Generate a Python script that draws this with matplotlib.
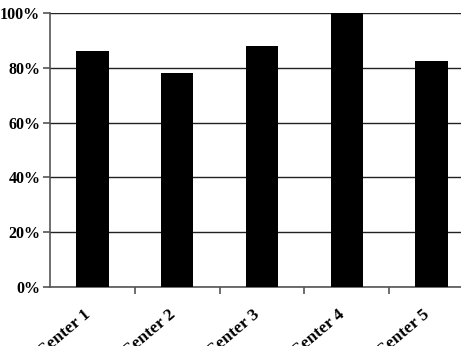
import numpy as np
import matplotlib.pyplot as plt
import matplotlib.transforms as mtransforms
from matplotlib.ticker import FuncFormatter, FixedLocator

centers = ["Center 1", "Center 2", "Center 3", "Center 4", "Center 5"]
values = [86, 78, 88, 100, 82.5]
yticks = [0, 20, 40, 60, 80, 100]

plt.rcParams['font.family'] = ['Liberation Serif', 'DejaVu Serif']
plt.rcParams['font.weight'] = 'bold'

fig = plt.figure(figsize=(4.61, 3.46), dpi=100)
ax = fig.add_axes([50 / 461, 59 / 346, 424 / 461, 274 / 346])

x = np.arange(len(centers))
ax.bar(x, values, width=0.38, color='black', zorder=3)

ax.set_xlim(-0.5, len(centers) - 0.5)
ax.set_ylim(0, 100)

ax.set_yticks(yticks)
ax.yaxis.set_major_formatter(FuncFormatter(lambda v, p: f"{int(v)}%"))
ax.grid(axis='y', color='#222222', linewidth=1.0, zorder=0)

# category labels at centres, tick marks at category boundaries
ax.set_xticks(x)
ax.set_xticklabels(centers, rotation=40, ha='right', rotation_mode='anchor')
ax.tick_params(axis='x', which='major', length=0, pad=14, labelsize=12.5)
shift = mtransforms.ScaledTranslation(-9 / 100, 0, fig.dpi_scale_trans)
for lab in ax.get_xticklabels():
    lab.set_transform(lab.get_transform() + shift)
ax.xaxis.set_minor_locator(FixedLocator(np.arange(len(centers)) + 0.5))
ax.tick_params(axis='x', which='minor', length=5, color='#555555', width=1.2)
ax.tick_params(axis='y', length=5, color='#555555', width=1.2, labelsize=11.5, pad=2)

for s in ['top', 'right']:
    ax.spines[s].set_visible(False)
for s in ['left', 'bottom']:
    ax.spines[s].set_color('#555555')
    ax.spines[s].set_linewidth(1.2)

fig.savefig('out.png', dpi=100)
